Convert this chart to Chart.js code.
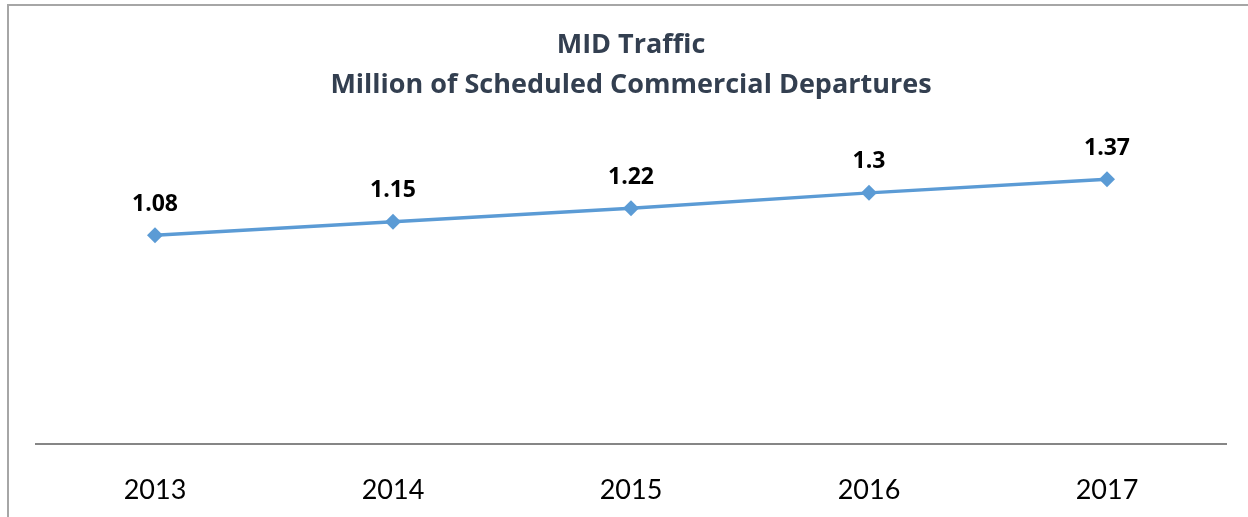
<!DOCTYPE html>
<html>
<head>
<meta charset="utf-8">
<script src="https://cdn.jsdelivr.net/npm/chart.js@4/dist/chart.umd.min.js"></script>
<style>
  html, body { margin: 0; padding: 0; background: #fff; overflow: hidden; }
</style>
</head>
<body>
<canvas id="trafficChart" width="1248" height="517"></canvas>
<script>
const years = ['2013', '2014', '2015', '2016', '2017'];
const departures = [1.08, 1.15, 1.22, 1.3, 1.37];
const titleLines = ['MID Traffic', 'Million of Scheduled Commercial Departures'];

// outer chart frame, only top and left edges fall inside the picture
const frameEdges = {
    id: 'frameEdges',
    beforeDraw(chart) {
        const ctx = chart.ctx;
        ctx.save();
        ctx.strokeStyle = '#A6A6A6';
        ctx.lineWidth = 2;
        ctx.beginPath();
        ctx.moveTo(8, chart.height);
        ctx.lineTo(8, 5);
        ctx.lineTo(chart.width, 5);
        ctx.stroke();
        ctx.restore();
    }
};

// draws the value above each marker
const valueLabels = {
    id: 'valueLabels',
    afterDatasetsDraw(chart) {
        const ctx = chart.ctx;
        const meta = chart.getDatasetMeta(0);
        ctx.save();
        ctx.font = 'bold 23px "Open Sans"';
        ctx.fillStyle = '#000';
        ctx.textAlign = 'center';
        ctx.textBaseline = 'middle';
        meta.data.forEach((pt, i) => {
            ctx.fillText(String(departures[i]), pt.x, pt.y - 31);
        });
        ctx.restore();
    }
};

const ctx = document.getElementById('trafficChart');
new Chart(ctx, {
    type: 'line',
    data: {
        labels: years,
        datasets: [{
            label: 'Departures',
            data: departures,
            borderColor: '#5B9BD5',
            backgroundColor: '#5B9BD5',
            borderWidth: 3.5,
            pointStyle: 'rectRot',
            pointRadius: 8,
            pointBorderWidth: 0,
            tension: 0
        }]
    },
    options: {
        responsive: false,
        animation: false,
        layout: { padding: { left: 36, right: 22, top: 0, bottom: 0 } },
        plugins: {
            legend: { display: false },
            tooltip: { enabled: false },
            title: {
                display: true,
                text: titleLines,
                color: '#333F50',
                font: { family: '"Open Sans"', size: 27, weight: 'bold', lineHeight: 1.48 },
                padding: { top: 25, bottom: 30 }
            }
        },
        scales: {
            x: {
                offset: true,
                grid: { display: false, drawTicks: false },
                border: { display: true, color: '#868686', width: 2 },
                ticks: { color: '#000', padding: 30, font: { family: 'Lato', size: 27 } },
                afterFit(scale) { scale.height = 73; }
            },
            y: {
                display: false,
                min: 0,
                max: 1.6
            }
        }
    },
    plugins: [frameEdges, valueLabels]
});
</script>
</body>
</html>
